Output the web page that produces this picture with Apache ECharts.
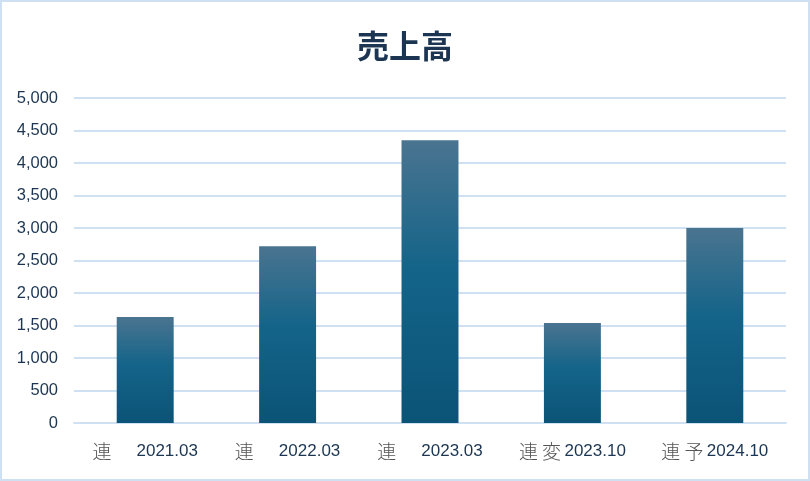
<!DOCTYPE html>
<html><head><meta charset="utf-8">
<script src="https://cdn.jsdelivr.net/npm/echarts@6/dist/echarts.min.js"></script>
<style>html,body{margin:0;padding:0;background:#fff}#c{width:810px;height:481px;box-sizing:border-box;border:2px solid #cfe0f3}</style>
</head><body><div id="c"></div>
<script>
const prefixes = ["連", "連", "連", "連変", "連予"];
const periods = ["2021.03", "2022.03", "2023.03", "2023.10", "2024.10"];
const sales = [1630, 2720, 4350, 1540, 3000];
const yTicks = [0, 500, 1000, 1500, 2000, 2500, 3000, 3500, 4000, 4500, 5000];

const categories = periods.map((p, i) => i);
const chart = echarts.init(document.getElementById('c'));
chart.setOption({
  animation: false,
  title: {text: '売上高', left: 'center', top: 23,
    textStyle: {fontFamily: 'Noto Sans CJK JP', fontSize: 32, fontWeight: 'bold', color: '#1b3552'}},
  grid: {left: 72, right: 22, top: 96, bottom: 56},
  xAxis: {type: 'category', data: categories,
    axisLine: {show: true, lineStyle: {color: '#cfe0f3', width: 2}},
    axisTick: {show: false},
    axisLabel: {margin: 19, interval: 0,
      formatter: (v, i) => {
        const pre = prefixes[i];
        const sp = pre.length === 1 ? '{pre|' + pre + '}{gap|}' : '{pre|' + pre.split('').join(' ') + '} ';
        return sp + '{d|' + periods[i] + '}';
      },
      rich: {
        pre: {fontFamily: 'Noto Sans CJK JP', fontSize: 19, color: '#555', fontWeight: 300},
        gap: {width: 25},
        d: {fontFamily: 'Liberation Sans', fontSize: 17, color: '#1b3552'}
      }}},
  yAxis: {type: 'value', min: 0, max: 5000, interval: 500,
    axisLine: {show: false}, axisTick: {show: false},
    splitLine: {lineStyle: {color: '#cfe0f3', width: 2}},
    axisLabel: {margin: 16, fontFamily: 'Liberation Sans', fontSize: 16.5, color: '#1b3552',
      formatter: v => yTicks.includes(v) ? v.toLocaleString('en-US') : ''}},
  series: [{type: 'bar', data: sales, barWidth: '40%',
    itemStyle: {color: new echarts.graphic.LinearGradient(0, 0, 0, 1, [
      {offset: 0, color: '#4a7490'}, {offset: 0.45, color: '#146489'}, {offset: 1, color: '#0b5377'}])}}]
});
</script></body></html>
